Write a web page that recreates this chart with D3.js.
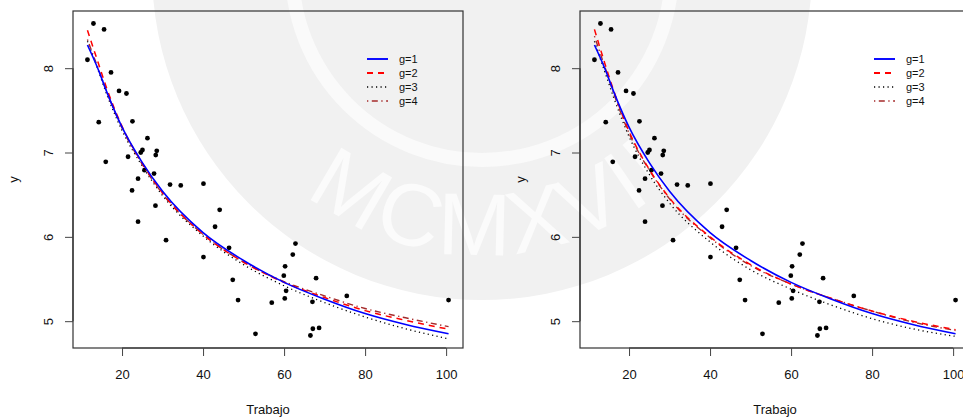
<!DOCTYPE html>
<html>
<head>
<meta charset="utf-8">
<script src="https://cdn.jsdelivr.net/npm/d3@7"></script>
<style>
html,body{margin:0;padding:0;background:#fff;}
svg{display:block;font-family:"Liberation Sans",Arial,Helvetica,sans-serif;}
</style>
</head>
<body>
<svg id="chart" width="963" height="419"></svg>
<script>
// ---- data ----
const trabajo = [12.94,15.56,11.46,17.28,19.26,21.09,14.25,22.57,26.27,25.04,24.62,28.57,28.32,21.48,15.98,25.53,27.90,23.95,22.47,31.85,34.49,40.10,28.25,44.10,42.96,23.95,30.86,46.42,40.10,62.81,62.15,60.25,59.93,67.90,47.33,60.50,60.17,48.64,56.96,67.00,52.94,67.10,66.50,68.64,75.48,100.6];
const yObs    = [8.53,8.46,8.10,7.95,7.73,7.70,7.36,7.37,7.17,7.03,7.00,7.02,6.97,6.95,6.89,6.79,6.75,6.69,6.55,6.62,6.61,6.63,6.37,6.32,6.12,6.18,5.96,5.87,5.76,5.92,5.79,5.65,5.54,5.51,5.49,5.36,5.27,5.25,5.22,5.23,4.85,4.91,4.83,4.92,5.30,5.25];

const curveX  = [11.46,14,16.3,20,25,30,40,50,60,70,80,90,100.6];
const leftG1  = [8.275,8.00,7.71,7.30,6.88,6.54,6.05,5.72,5.46,5.26,5.09,4.96,4.85];
const leftG2  = [8.45,8.08,7.75,7.31,6.87,6.52,6.03,5.70,5.46,5.28,5.125,5.01,4.905];
const leftG3  = [8.32,7.99,7.68,7.26,6.84,6.49,6.01,5.67,5.42,5.22,5.05,4.91,4.79];
const leftG4  = [8.34,8.01,7.71,7.29,6.86,6.51,6.03,5.70,5.47,5.30,5.15,5.04,4.935];
const rightG1 = [8.275,8.00,7.71,7.30,6.88,6.54,6.05,5.72,5.46,5.26,5.09,4.96,4.85];
const rightG2 = [8.46,8.06,7.72,7.25,6.80,6.46,6.00,5.67,5.44,5.27,5.12,5.00,4.90];
const rightG3 = [8.32,7.96,7.64,7.19,6.74,6.40,5.94,5.61,5.38,5.19,5.03,4.91,4.82];
const rightG4 = [8.38,8.02,7.69,7.23,6.79,6.45,5.99,5.66,5.44,5.27,5.12,4.99,4.89];

const xTicks = [20,40,60,80,100];
const yTicks = [5,6,7,8];
const legendLabels = ["g=1","g=2","g=3","g=4"];
const xTitle = "Trabajo";
const yTitle = "y";

// ---- styles ----
const seriesStyle = [
  {color:"#0000FF", width:1.6, dash:null},
  {color:"#FF0000", width:1.5, dash:"6,5"},
  {color:"#000000", width:1.3, dash:"1.2,3.3"},
  {color:"#A52A2A", width:1.4, dash:"1.3,3.5,6,3.5"}
];

const svg = d3.select("#chart");

// ---- watermark (faint seal) ----
const wm = svg.append("g");
wm.append("circle").attr("cx",482).attr("cy",-30).attr("r",330).attr("fill","#f1f1f1");
wm.append("circle").attr("cx",482).attr("cy",-30).attr("r",190).attr("fill","none")
  .attr("stroke","#fafafa").attr("stroke-width",14);
const arcR = 285, acx = 482, acy = -30;
const a0 = 150*Math.PI/180, a1 = 25*Math.PI/180;
wm.append("path").attr("id","wmArc").attr("fill","none")
  .attr("d",`M${acx+arcR*Math.cos(a0)},${acy+arcR*Math.sin(a0)} A${arcR},${arcR} 0 0 0 ${acx+arcR*Math.cos(a1)},${acy+arcR*Math.sin(a1)}`);
wm.append("text").attr("font-family","'Liberation Sans',sans-serif").attr("font-size",88)
  .attr("fill","#fbfbfb").attr("letter-spacing",4)
  .append("textPath").attr("href","#wmArc").attr("startOffset","50%").attr("text-anchor","middle")
  .text("MCMXVII");

// ---- panels ----
const xExt = d3.extent(trabajo), yExt = d3.extent(yObs);
const xPad = (xExt[1]-xExt[0])*0.04, yPad = (yExt[1]-yExt[0])*0.04;

const panels = [
  {left:73, series:[leftG1,leftG2,leftG3,leftG4]},
  {left:580, series:[rightG1,rightG2,rightG3,rightG4]}
];
const plotTop = 11, plotBottom = 348, plotWidth = 390;

panels.forEach(p => {
  const x = d3.scaleLinear().domain([xExt[0]-xPad, xExt[1]+xPad]).range([p.left, p.left+plotWidth]);
  const y = d3.scaleLinear().domain([yExt[0]-yPad, yExt[1]+yPad]).range([plotBottom, plotTop]);
  const g = svg.append("g");

  // points
  g.selectAll("circle.pt").data(trabajo).join("circle")
    .attr("class","pt")
    .attr("cx",(d)=>x(d)).attr("cy",(d,i)=>y(yObs[i])).attr("r",2.4).attr("fill","#000");

  // curves
  const line = d3.line().x((d,i)=>x(curveX[i])).y(d=>y(d)).curve(d3.curveMonotoneX);
  [2,3,1,0].forEach(k => {
    const s = seriesStyle[k];
    g.append("path").datum(p.series[k]).attr("d",line)
      .attr("fill","none").attr("stroke",s.color).attr("stroke-width",s.width)
      .attr("stroke-dasharray",s.dash);
  });

  // box
  g.append("rect").attr("x",p.left).attr("y",plotTop).attr("width",plotWidth).attr("height",plotBottom-plotTop)
    .attr("fill","none").attr("stroke","#333").attr("stroke-width",1.2);

  // x axis
  const xa = g.append("g").attr("transform",`translate(0,${plotBottom})`)
    .call(d3.axisBottom(x).tickValues(xTicks).tickFormat(d3.format("d")).tickSize(8).tickPadding(14).tickSizeOuter(0));
  xa.select(".domain").attr("d",`M${x(xTicks[0])},0H${x(xTicks[xTicks.length-1])}`).attr("stroke","#333").attr("stroke-width",1.2);
  xa.selectAll(".tick line").attr("stroke","#444");
  xa.selectAll(".tick text").attr("font-size",13).attr("fill","#111").attr("font-family","'Liberation Sans',Arial,sans-serif");

  // y axis
  const ya = g.append("g").attr("transform",`translate(${p.left},0)`)
    .call(d3.axisLeft(y).tickValues(yTicks).tickFormat(d3.format("d")).tickSize(8).tickSizeOuter(0));
  ya.select(".domain").attr("d",`M0,${y(yTicks[0])}V${y(yTicks[yTicks.length-1])}`).attr("stroke","#333").attr("stroke-width",1.2);
  ya.selectAll(".tick line").attr("stroke","#444");
  ya.selectAll(".tick text")
    .attr("x",null).attr("dy",null)
    .attr("text-anchor","middle")
    .attr("transform","translate(-20,0) rotate(-90)")
    .attr("font-size",13).attr("fill","#111").attr("font-family","'Liberation Sans',Arial,sans-serif");

  // titles
  g.append("text").attr("x",p.left+plotWidth/2).attr("y",414).attr("text-anchor","middle")
    .attr("font-size",13).attr("fill","#111").text(xTitle);
  g.append("text").attr("transform",`translate(${p.left-55},${(plotTop+plotBottom)/2}) rotate(-90)`)
    .attr("text-anchor","middle").attr("font-size",13).attr("fill","#111").text(yTitle);

  // legend
  const lx = p.left + 294, ly = 59, step = 14;
  seriesStyle.forEach((s,i) => {
    g.append("line").attr("x1",lx).attr("x2",lx+21).attr("y1",ly+i*step).attr("y2",ly+i*step)
      .attr("stroke",s.color).attr("stroke-width",s.width+0.3).attr("stroke-dasharray",s.dash);
    g.append("text").attr("x",lx+32).attr("y",ly+i*step).attr("dy","0.35em")
      .attr("font-size",11).attr("fill","#111").text(legendLabels[i]);
  });
});
</script>
</body>
</html>
